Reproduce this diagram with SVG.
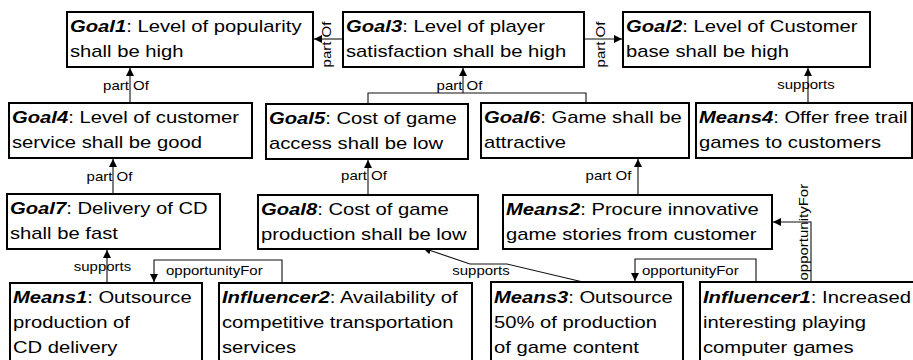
<svg xmlns="http://www.w3.org/2000/svg" width="913" height="360" viewBox="0 0 913 360">
<style>
.box{fill:#fff;stroke:#000;stroke-width:2}
.nt{font-family:"Liberation Sans",Arial,sans-serif;font-size:17px;fill:#000}
.nm{font-weight:bold;font-style:italic}
.c{fill:none;stroke:#111;stroke-width:1.1}
.a{marker-end:url(#arr)}
.lb{font-family:"Liberation Sans",Arial,sans-serif;font-size:12.3px;fill:#000}
.mid{text-anchor:middle}
</style>
<defs>
<marker id="arr" viewBox="0 0 10 10" refX="10" refY="5" markerWidth="8" markerHeight="10" markerUnits="userSpaceOnUse" orient="auto">
<path d="M0,0 L10,5 L0,10 z" fill="#000"/>
</marker>
</defs>
<rect width="913" height="360" fill="#fff"/>
<g id="connectors">
<path class="c a" d="M130,103 V68"/>
<path class="c a" d="M113,194 V159"/>
<path class="c a" d="M342,39 H314"/>
<path class="c a" d="M585,39 H622"/>
<path class="c" d="M368,104 V93 H586 V103"/>
<path class="c a" d="M463,93 V68"/>
<path class="c a" d="M368,195 V160"/>
<path class="c a" d="M638,195 V159"/>
<path class="c a" d="M808,103 V68"/>
<path class="c a" d="M107,283 V250"/>
<path class="c a" d="M282,283 V260 H154 V282"/>
<path class="c a" d="M583,282 L507,264 H470 L423,248"/>
<path class="c a" d="M756,282 V259 H635 V281"/>
<path class="c a" d="M811,282 V222 H773"/>
<text class="lb mid" transform="translate(126,90) scale(1.22,1)">part Of</text>
<text class="lb mid" transform="translate(109.5,180.5) scale(1.22,1)">part Of</text>
<text class="lb mid" transform="translate(330.5,44.5) rotate(-90) scale(1.22,1)">part Of</text>
<text class="lb mid" transform="translate(604.5,44.5) rotate(-90) scale(1.22,1)">part Of</text>
<text class="lb mid" transform="translate(459.5,90) scale(1.22,1)">part Of</text>
<text class="lb mid" transform="translate(364,180) scale(1.22,1)">part Of</text>
<text class="lb mid" transform="translate(608.5,180) scale(1.22,1)">part Of</text>
<text class="lb mid" transform="translate(806,89) scale(1.22,1)">supports</text>
<text class="lb mid" transform="translate(102.5,271) scale(1.22,1)">supports</text>
<text class="lb" transform="translate(166,275) scale(1.22,1)">opportunityFor</text>
<text class="lb mid" transform="translate(481,275) scale(1.22,1)">supports</text>
<text class="lb" transform="translate(642,275) scale(1.22,1)">opportunityFor</text>
<text class="lb" transform="translate(807.5,280.5) rotate(-90) scale(1.22,1)">opportunityFor</text>
</g>
<g id="Goal1"><rect class="box" x="67" y="12" width="246" height="55"/><text class="nt" transform="translate(70,32) scale(1.19,1)"><tspan class="nm">Goal1</tspan>: Level of popularity<tspan x="0" dy="25">shall be high</tspan></text></g>
<g id="Goal3"><rect class="box" x="343" y="12" width="241" height="55"/><text class="nt" transform="translate(346,32) scale(1.19,1)"><tspan class="nm">Goal3</tspan>: Level of player<tspan x="0" dy="25">satisfaction shall be high</tspan></text></g>
<g id="Goal2"><rect class="box" x="623" y="12" width="247" height="55"/><text class="nt" transform="translate(626,32) scale(1.19,1)"><tspan class="nm">Goal2</tspan>: Level of Customer<tspan x="0" dy="25">base shall be high</tspan></text></g>
<g id="Goal4"><rect class="box" x="9" y="103" width="243" height="55"/><text class="nt" transform="translate(12,123) scale(1.19,1)"><tspan class="nm">Goal4</tspan>: Level of customer<tspan x="0" dy="25">service shall be good</tspan></text></g>
<g id="Goal5"><rect class="box" x="266" y="104" width="202" height="55"/><text class="nt" transform="translate(269,124) scale(1.19,1)"><tspan class="nm">Goal5</tspan>: Cost of game<tspan x="0" dy="25">access shall be low</tspan></text></g>
<g id="Goal6"><rect class="box" x="481" y="103" width="208" height="55"/><text class="nt" transform="translate(484,123) scale(1.19,1)"><tspan class="nm">Goal6</tspan>: Game shall be<tspan x="0" dy="25">attractive</tspan></text></g>
<g id="Means4"><rect class="box" x="696" y="103" width="216" height="55"/><text class="nt" transform="translate(699,123) scale(1.19,1)"><tspan class="nm">Means4</tspan>: Offer free trail<tspan x="0" dy="25">games to customers</tspan></text></g>
<g id="Goal7"><rect class="box" x="7" y="194" width="213" height="55"/><text class="nt" transform="translate(10,214) scale(1.19,1)"><tspan class="nm">Goal7</tspan>: Delivery of CD<tspan x="0" dy="25">shall be fast</tspan></text></g>
<g id="Goal8"><rect class="box" x="258" y="195" width="220" height="54"/><text class="nt" transform="translate(261,215) scale(1.19,1)"><tspan class="nm">Goal8</tspan>: Cost of game<tspan x="0" dy="25">production shall be low</tspan></text></g>
<g id="Means2"><rect class="box" x="503" y="195" width="269" height="54"/><text class="nt" transform="translate(506,215) scale(1.19,1)"><tspan class="nm">Means2</tspan>: Procure innovative<tspan x="0" dy="25">game stories from customer</tspan></text></g>
<g id="Means1"><rect class="box" x="10" y="283" width="192" height="85"/><text class="nt" transform="translate(13,303) scale(1.19,1)"><tspan class="nm">Means1</tspan>: Outsource<tspan x="0" dy="25">production of</tspan><tspan x="0" dy="25">CD delivery</tspan></text></g>
<g id="Influencer2"><rect class="box" x="219" y="283" width="253" height="85"/><text class="nt" transform="translate(222,303) scale(1.19,1)"><tspan class="nm">Influencer2</tspan>: Availability of<tspan x="0" dy="25">competitive transportation</tspan><tspan x="0" dy="25">services</tspan></text></g>
<g id="Means3"><rect class="box" x="491" y="282" width="192" height="86"/><text class="nt" transform="translate(494,303) scale(1.19,1)"><tspan class="nm">Means3</tspan>: Outsource<tspan x="0" dy="25">50% of production</tspan><tspan x="0" dy="25">of game content</tspan></text></g>
<g id="Influencer1"><rect class="box" x="700" y="282" width="220" height="86"/><text class="nt" transform="translate(703,303) scale(1.19,1)"><tspan class="nm">Influencer1</tspan>: Increased<tspan x="0" dy="25">interesting playing</tspan><tspan x="0" dy="25">computer games</tspan></text></g>
</svg>
